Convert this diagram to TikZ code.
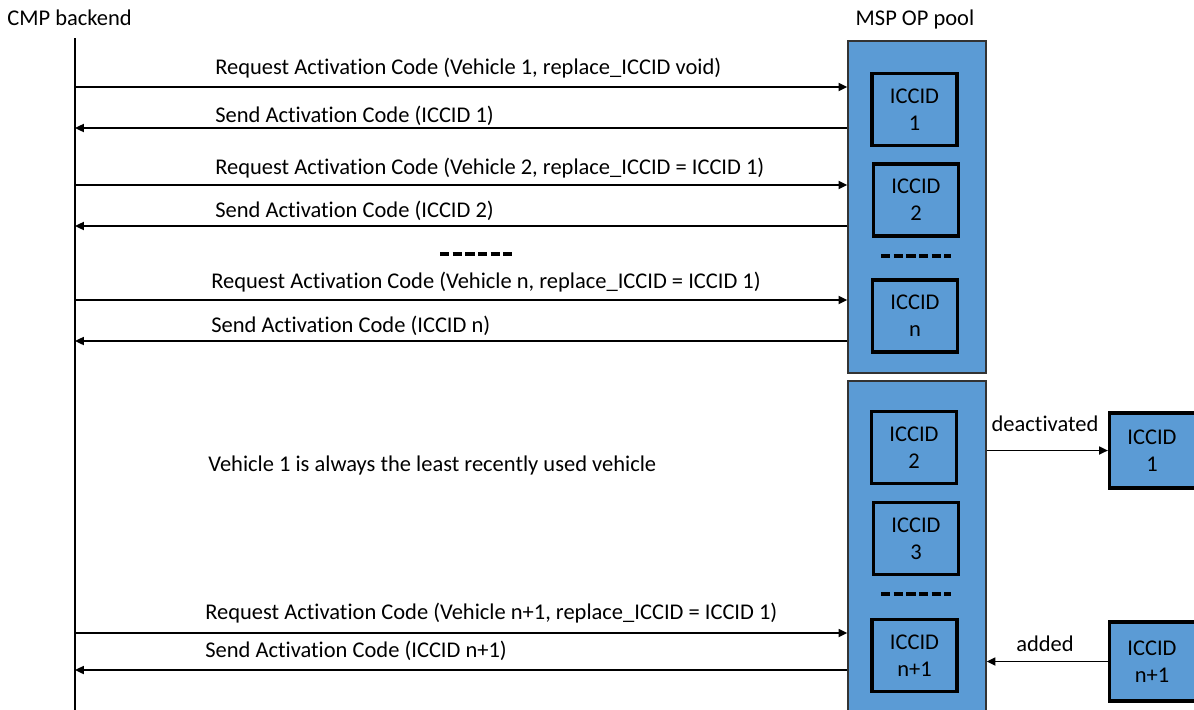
\documentclass[tikz,border=0pt]{standalone}
\usepackage{fontspec}
\setmainfont[Ligatures=NoCommon]{Carlito}
\usepackage{tikz}
\usetikzlibrary{arrows.meta}
\definecolor{poolblue}{HTML}{5B9BD5}

\begin{document}
\begin{tikzpicture}[x=0.02cm,y=-0.02cm,
  font=\fontsize{12.8}{15.3}\selectfont,
  >={Triangle[length=5pt,width=4.5pt]},
  msg/.style={->,line width=1.1pt},
  lbl/.style={anchor=west,inner sep=0pt},
  pool/.style={draw=black!80,fill=poolblue,line width=0.8pt,minimum width=2.76cm,inner sep=0pt},
  iccid/.style={draw,fill=poolblue,line width=1.8pt,minimum width=1.7cm,minimum height=1.44cm,align=center,inner sep=0pt},
  gap/.style={line width=2.2pt,dash pattern=on 5.3pt off 1.9pt}]
  \useasboundingbox (0,0) rectangle (1194,710);
  \clip (0,0) rectangle (1194,710);

  % CMP backend lifeline
  \node[lbl] (cmp) at (7,18) {CMP backend};
  \coordinate (top) at (75,38);
  \coordinate (bot) at (75,714);
  \draw[line width=1.7pt] (top) -- (bot);

  % MSP OP pool
  \node (msp) at (915,20) {MSP OP pool};
  \node[pool,minimum height=6.64cm] (pool1) at (917,207) {};
  \node[pool,minimum height=6.7cm] (pool2) at (917,548.5) {};

  \node[iccid] (a1) at (914.5,109.5) {ICCID\\1};
  \node[iccid] (a2) at (916,200) {ICCID\\2};
  \node[iccid] (an) at (915,316) {ICCID\\n};
  \draw[gap] (881,256) -- (951,256);

  \node[iccid] (b2) at (914,447.5) {ICCID\\2};
  \node[iccid] (b3) at (916,538.5) {ICCID\\3};
  \node[iccid] (bn) at (914.5,655.5) {ICCID\\n+1};
  \draw[gap] (881,594) -- (951,594);

  % removed / new ICCID
  \node[iccid,minimum width=1.9cm,minimum height=1.5cm] (old) at (1157,450.5) {};
  \node[iccid,minimum width=1.9cm,minimum height=1.58cm] (new) at (1157,661.5) {};
  \node[align=center] (oldtxt) at (1152,450.5) {ICCID\\1};
  \node[align=center] (newtxt) at (1152,661.5) {ICCID\\n+1};
  \draw[msg] (pool2.east |- old.west) -- (old.west);
  \node (deact) at (1045,424) {deactivated};
  \draw[msg] (new.west) -- (new.west -| pool2.east);
  \node (add) at (1045,644) {added};

  % messages
  \coordinate (req1) at (75,87);
  \coordinate (snd1) at (75,128);
  \coordinate (req2) at (75,185);
  \coordinate (snd2) at (75,226);
  \coordinate (req3) at (75,300);
  \coordinate (snd3) at (75,341);
  \coordinate (req4) at (75,633);
  \coordinate (snd4) at (75,670);

  \draw[msg] (req1) -- (req1 -| pool1.west);
  \draw[msg] (snd1 -| pool1.west) -- (snd1);
  \draw[msg] (req2) -- (req2 -| pool1.west);
  \draw[msg] (snd2 -| pool1.west) -- (snd2);
  \draw[msg] (req3) -- (req3 -| pool1.west);
  \draw[msg] (snd3 -| pool1.west) -- (snd3);
  \draw[msg] (req4) -- (req4 -| pool2.west);
  \draw[msg] (snd4 -| pool2.west) -- (snd4);

  \node[lbl] (r1) at (215,68) {Request Activation Code (Vehicle 1, replace\_ICCID void)};
  \node[lbl] (s1) at (215,116) {Send Activation Code (ICCID 1)};
  \node[lbl] (r2) at (215,168) {Request Activation Code (Vehicle 2, replace\_ICCID = ICCID 1)};
  \node[lbl] (s2) at (215,211) {Send Activation Code (ICCID 2)};
  \draw[gap] (440,254) -- (512,254);
  \node[lbl] (r3) at (211,282) {Request Activation Code (Vehicle n, replace\_ICCID = ICCID 1)};
  \node[lbl] (s3) at (211,326) {Send Activation Code (ICCID n)};
  \node[lbl] (note) at (208,465) {Vehicle 1 is always the least recently used vehicle};
  \node[lbl] (r4) at (205,613) {Request Activation Code (Vehicle n+1, replace\_ICCID = ICCID 1)};
  \node[lbl] (s4) at (205,651) {Send Activation Code (ICCID n+1)};
\end{tikzpicture}
\end{document}
